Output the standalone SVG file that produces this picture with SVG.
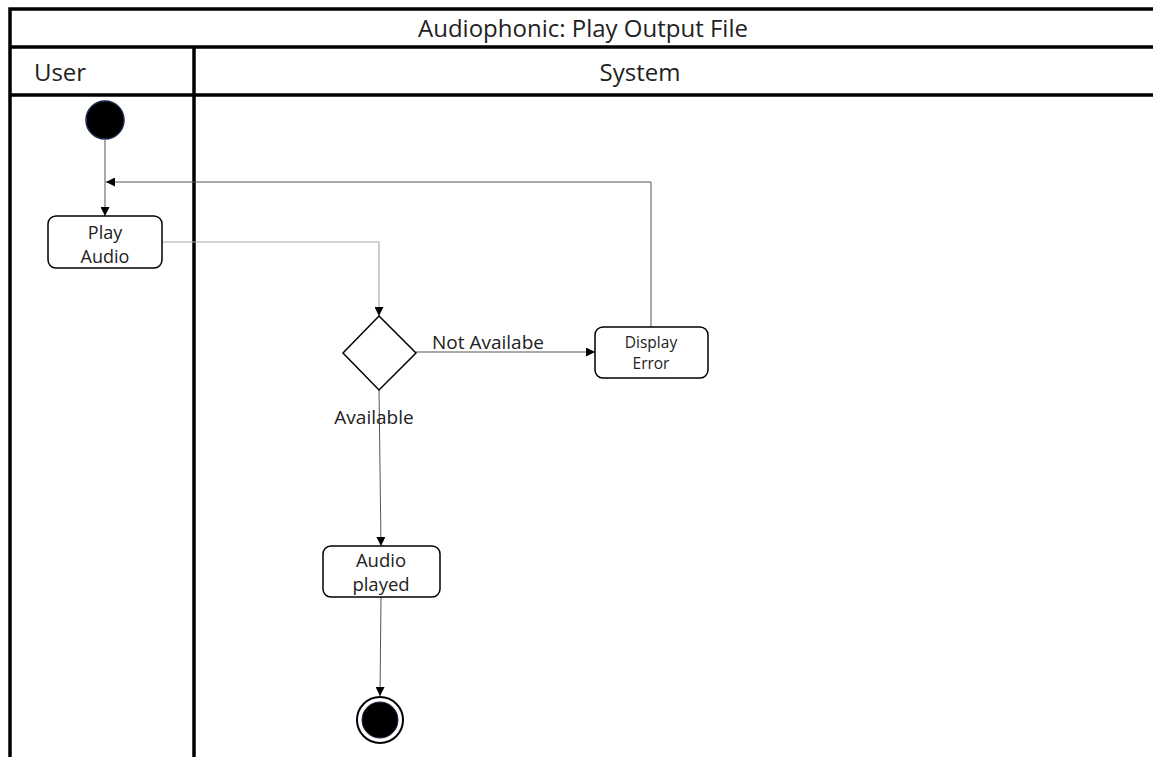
<svg xmlns="http://www.w3.org/2000/svg" width="1153" height="757" viewBox="0 0 1153 757">
<defs>
<marker id="arr" viewBox="0 0 10 10" refX="10" refY="5" markerWidth="9" markerHeight="9" markerUnits="userSpaceOnUse" orient="auto"><path d="M0,0 L10,5 L0,10 z" fill="#000"/></marker>
<style>
.frame{stroke:#000;stroke-width:3.5;fill:none}
.t{font-family:"Open Sans","Liberation Sans",sans-serif;fill:#222;text-anchor:middle}
.box{fill:#fff;stroke:#000;stroke-width:1.5}
.c{fill:none;stroke:#555;stroke-width:1}
.cg{fill:none;stroke:#aaa;stroke-width:1.2}
</style>
</defs>
<rect width="1153" height="757" fill="#fff"/>
<g id="frame">
<path class="frame" d="M10,757 V9 H1153"/>
<path class="frame" d="M10,47 H1153 M10,95 H1153 M194,47 V757"/>
<text class="t" x="583" y="37" font-size="24">Audiophonic: Play Output File</text>
<text class="t" x="60" y="81" font-size="24">User</text>
<text class="t" x="640" y="81" font-size="24">System</text>
</g>
<g id="connectors">
<path class="c" d="M105,140 V216" marker-end="url(#arr)"/>
<path class="c" d="M651,327 V182 H106" marker-end="url(#arr)"/>
<path class="cg" d="M162,242 H379 V316" marker-end="url(#arr)"/>
<path class="c" d="M416,352 H595" marker-end="url(#arr)"/>
<path class="c" d="M379,390 L381,546" marker-end="url(#arr)"/>
<path class="c" d="M381,597 L380,696" marker-end="url(#arr)"/>
<text class="t" x="488" y="349" font-size="19">Not Availabe</text>
<text class="t" x="374" y="424" font-size="19">Available</text>
</g>
<g id="start"><circle cx="105" cy="120" r="19" fill="#000" stroke="#1a2a4a" stroke-width="1.5"/></g>
<g id="play-audio">
<rect class="box" x="48" y="216" width="114" height="52" rx="8"/>
<text class="t" x="105" y="239" font-size="18">Play</text>
<text class="t" x="105" y="263" font-size="18">Audio</text>
</g>
<g id="decision"><path d="M379,316 L416,353 L379,390 L343,353 Z" fill="#fff" stroke="#000" stroke-width="1.5"/></g>
<g id="display-error">
<rect class="box" x="595" y="327" width="113" height="51" rx="8"/>
<text class="t" x="651" y="348" font-size="15.5">Display</text>
<text class="t" x="651" y="369" font-size="15.5">Error</text>
</g>
<g id="audio-played">
<rect class="box" x="323" y="546" width="117" height="51" rx="8"/>
<text class="t" x="381" y="567" font-size="18.5">Audio</text>
<text class="t" x="381" y="591" font-size="18.5">played</text>
</g>
<g id="end">
<circle cx="380" cy="720" r="23" fill="#fff" stroke="#000" stroke-width="2"/>
<circle cx="380" cy="720" r="18" fill="#000" stroke="#1a2a4a" stroke-width="1"/>
</g>
</svg>
